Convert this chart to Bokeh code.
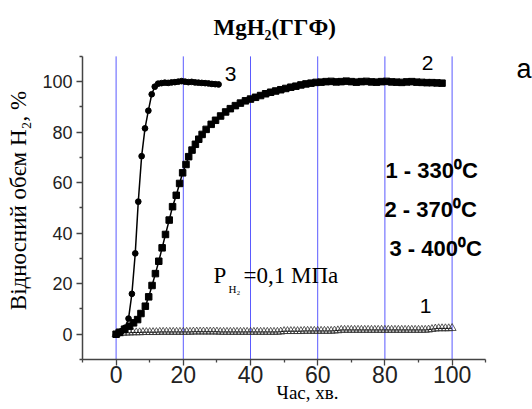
import math
from bokeh.plotting import figure
from bokeh.models import Range1d, FixedTicker, Label
from bokeh.embed import file_html
from bokeh.resources import INLINE

# ---------------- data ----------------
# curve 1 : 330 C (open triangles)
t1 = list(range(0, 101))
v1 = [0, 0.3, 0.5, 0.6, 0.6, 0.7, 0.7, 0.7, 0.8, 0.8,
      0.8, 0.8, 0.8, 0.9, 0.9, 0.9, 0.9, 0.9, 0.9, 0.9,
      0.9, 0.9, 0.9, 1.0, 1.0, 1.0, 1.0, 1.0, 1.0, 1.0,
      1.0, 0.9, 0.9, 0.9, 0.9, 0.9, 0.9, 0.9, 0.9, 0.9,
      0.9, 0.9, 0.9, 0.9, 0.9, 0.9, 0.9, 0.9, 0.9, 1.0,
      1.2, 1.2, 1.2, 1.2, 1.2, 1.2, 1.3, 1.3, 1.3, 1.3,
      1.3, 1.3, 1.3, 1.3, 1.3, 1.4, 1.5, 1.7, 1.7, 1.7,
      1.7, 1.7, 1.7, 1.7, 1.7, 1.7, 1.7, 1.7, 1.7, 1.7,
      1.7, 1.7, 1.7, 1.7, 1.7, 1.7, 1.7, 1.7, 1.7, 1.7,
      1.7, 1.7, 1.7, 1.8, 2.0, 2.2, 2.3, 2.3, 2.3, 2.3,
      2.4]

# curve 2 : 370 C (filled squares)
t2 = [0, 1.0, 2.5, 4.0, 5.2, 6.4, 7.4, 8.7, 9.7, 10.7, 11.7, 12.7, 13.7, 14.7,
      15.8, 16.8, 17.9, 18.9, 19.8, 20.8, 21.6, 22.6, 23.6, 24.6, 25.6, 26.8,
      28.3, 29.6, 31.1, 32.6, 34.0, 35.5, 37.0, 38.5, 40.0, 41.5, 43.0, 44.5,
      46.0, 47.5, 49.0, 50.5, 52.0, 53.5, 55.0, 56.5, 58.0, 59.5,
      61.0, 62.5, 64.0, 65.5, 67.0, 68.5, 70.0, 71.5, 73.0, 74.5, 76.0, 77.5,
      79.0, 80.5, 82.0, 83.5, 85.0, 86.5, 88.0, 89.5, 91.0, 92.5, 94.0, 95.5, 97.0]
v2 = [0, 0.8, 2.0, 3.2, 4.5, 5.8, 8.2, 11.1, 14.8, 19.3, 24.0, 28.9, 34.2, 39.5,
      45.2, 50.5, 55.0, 59.7, 63.9, 67.2, 70.3, 72.9, 75.2, 77.2, 79.1, 81.1,
      83.1, 84.7, 86.4, 88.0, 89.3, 90.5, 91.5, 92.4, 93.1, 93.8, 94.5, 95.2,
      95.8, 96.3, 96.8, 97.3, 97.8, 98.2, 98.7, 99.1, 99.4, 99.7,
      99.8, 100.0, 100.1, 99.9, 100.0, 100.2, 100.0, 99.8, 100.0, 100.1, 99.9, 99.8,
      100.0, 100.1, 99.9, 99.8, 99.7, 99.9, 100.0, 99.8, 99.7, 99.6, 99.6, 99.5, 99.4]

# curve 3 : 400 C (filled circles)
t3 = [0, 0.8, 1.7, 2.7, 3.7, 4.7, 5.7, 6.6, 7.6, 8.6, 9.6, 10.6, 11.5,
      12.5, 13.5, 14.5, 15.5, 16.5, 17.5, 18.5, 19.5, 20.5, 21.5, 22.5,
      23.5, 24.5, 25.5, 26.5, 27.5, 28.5, 29.5, 30.5]
v3 = [0, 0.5, 1.3, 2.6, 6.2, 16.0, 32.0, 52.5, 70.5, 81.5, 88.5, 95.0, 98.0,
      99.2, 99.4, 99.6, 99.5, 99.7, 99.8, 100.0, 100.2, 100.0, 99.8, 99.9,
      99.7, 99.6, 99.5, 99.4, 99.3, 99.1, 99.0, 98.9]

x_major = [0, 20, 40, 60, 80, 100]
x_minor = [-10, 10, 30, 50, 70, 90, 110]
y_major = [0, 20, 40, 60, 80, 100]
y_minor = [-10, 10, 30, 50, 70, 90, 110]
axis_min, axis_max = -10, 110

title_text = "MgH₂(ГГФ)"
ylabel_text = "Відносний обєм H₂, %"
xlabel_text = "Час, хв."
legend_lines = ["1 - 330⁰C", "2 - 370⁰C", "3 - 400⁰C"]
curve_names = ["1", "2", "3"]

# ---------------- figure ----------------
W, H = 532, 409
FL, FT, FB = 82, 41, 359   # frame left / top / bottom (pixels)
SX, SY = 3.36, 2.526       # pixels per data unit
XR = (axis_min, axis_min + (W - FL) / SX)
YR = (axis_min, axis_min + (FB - FT) / SY)

p = figure(width=W, height=H, output_backend="svg", toolbar_location=None,
           x_range=Range1d(*XR), y_range=Range1d(*YR), title=title_text,
           min_border_left=FL, min_border_right=0,
           min_border_top=FT, min_border_bottom=H - FB)
p.outline_line_color = None
p.background_fill_color = "white"
p.border_fill_color = "white"
p.xgrid.grid_line_color = None
p.ygrid.grid_line_color = None

p.title.align = "left"
p.title.offset = 131
p.title.standoff = 4
p.title.text_font = "Liberation Serif"
p.title.text_font_size = "23px"
p.title.text_font_style = "bold"
p.title.text_color = "black"

for ax in (p.xaxis[0], p.yaxis[0]):
    ax.bounds = (axis_min, axis_max)
    ax.axis_line_color = "#444444"
    ax.axis_line_width = 1.5
    ax.major_tick_line_color = "#444444"
    ax.minor_tick_line_color = "#444444"
    ax.major_tick_line_width = 1.3
    ax.minor_tick_line_width = 1.3
    ax.major_tick_in = 0
    ax.major_tick_out = 6
    ax.minor_tick_in = 0
    ax.minor_tick_out = 3
    ax.major_label_text_font = "Liberation Sans"
    ax.major_label_text_color = "#222222"
    ax.axis_label_text_font = "Liberation Serif"
    ax.axis_label_text_font_style = "normal"
    ax.axis_label_text_color = "black"

p.xaxis.ticker = FixedTicker(ticks=x_major, minor_ticks=x_minor)
p.yaxis.ticker = FixedTicker(ticks=y_major, minor_ticks=y_minor)
p.xaxis.major_label_text_font_size = "23px"
p.xaxis.major_label_standoff = 0
p.yaxis.major_label_text_font_size = "18px"
p.yaxis.major_label_standoff = 4

p.xaxis.axis_label = xlabel_text
p.xaxis.axis_label_text_font_size = "19px"
p.xaxis.axis_label_standoff = -4
p.yaxis.axis_label = ylabel_text
p.yaxis.axis_label_text_font_size = "23px"
p.yaxis.axis_label_standoff = 8

# vertical blue grid lines at the major x ticks (within the axis bounds)
p.segment(x0=x_major, y0=[axis_min] * len(x_major), x1=x_major,
          y1=[axis_max] * len(x_major), line_color="#5a5aff", line_width=1)

# curves
p.line(t1, v1, line_color="black", line_width=1)
p.scatter(t1, v1, marker="triangle", size=8, fill_color=None,
          line_color="#333333", line_width=0.8)

p.line(t2, v2, line_color="black", line_width=1.5)
p.scatter(t2, v2, marker="square", size=6.5, fill_color="black", line_color="black")

p.line(t3, v3, line_color="black", line_width=1.5)
p.scatter(t3, v3, marker="circle", size=5.7, fill_color="black", line_color="black")

# ------------- text placement helpers (pixels -> data) -------------
def px(xp):
    return axis_min + (xp - FL) / SX

def py(yp):
    return axis_min + (FB - yp) / SY

def lab(text, xp, yp, size, font="Liberation Sans", style="normal",
        align="left", baseline="alphabetic", color="black"):
    p.add_layout(Label(x=px(xp), y=py(yp), text=text, text_font=font,
                       text_font_size=size, text_font_style=style,
                       text_align=align, text_baseline=baseline,
                       text_color=color))

# curve numbers
lab(curve_names[2], 230, 73, "21px", align="center", baseline="middle")
lab(curve_names[1], 427, 62, "21px", align="center", baseline="middle")
lab(curve_names[0], 425, 305, "21px", align="center", baseline="middle")
lab("a", 516, 68, "27px")
# legend
lab(legend_lines[0], 385, 170, "22px", style="bold")
lab(legend_lines[1], 384, 209, "22px", style="bold")
lab(legend_lines[2], 389, 248, "22px", style="bold")
# pressure note
lab("P", 213, 275, "23px", font="Liberation Serif")
lab("H₂", 228, 288, "11px", font="Liberation Serif")
lab("=0,1 МПа", 243, 275, "23px", font="Liberation Serif")

open("out.html", "w").write(file_html(p, INLINE))
